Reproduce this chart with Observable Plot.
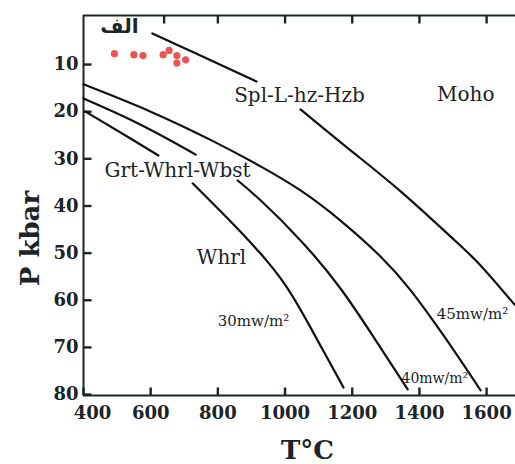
<!DOCTYPE html>
<html><head><meta charset="utf-8">
<script src="https://cdn.jsdelivr.net/npm/d3@7"></script>
<script src="https://cdn.jsdelivr.net/npm/@observablehq/plot@0.6"></script>
<style>body{margin:0;background:#fff} #chart{width:515px;height:464px}</style>
</head><body><div id="chart"></div>
<script>
// Axis ticks
const xTicks = [400, 600, 800, 1000, 1200, 1400, 1600];
const topTicks = [640, 800, 1000, 1200, 1400, 1600];
const yTicks = [10, 20, 30, 40, 50, 60, 70, 80];

// Curves: segments of [T (°C), P (kbar)] points (gaps where labels sit)
const curveTop = [
  [[605, 3.4], [748, 8.1], [915, 13.6]],
  [[1046, 19.5], [1195, 28.2], [1344, 36.9], [1493, 46.5], [1582, 52.6], [1683, 60.9]]
];
const curve45 = [
  [[400, 14.2], [600, 20.0], [787, 26.3], [927, 31.6], [1046, 36.7], [1165, 43.1], [1284, 50.7], [1374, 57.9], [1478, 68.1], [1582, 79.1]]
];
const curve40 = [
  [[400, 17.2], [540, 21.7], [659, 26.1], [734, 29.1]],
  [[859, 34.6], [927, 38.8], [1046, 47.3], [1165, 57.5], [1270, 68.5], [1365, 78.9]]
];
const curve30 = [
  [[406, 20.0], [540, 25.7], [623, 29.3]],
  [[725, 35.2], [838, 43.3], [927, 50.1], [1002, 56.9], [1076, 65.8], [1174, 78.5]]
];

// Sample points (red)
const sampleT = [492, 550, 577, 637, 655, 678, 678, 704];
const sampleP = [7.7, 7.9, 8.1, 7.9, 7.0, 8.1, 9.7, 9.0];

// Labels
const regionText = ["Spl-L-hz-Hzb", "Moho", "Grt-Whrl-Wbst", "Whrl"];
const regionT = [1043, 1538, 680, 811];
const regionP = [16.6, 16.3, 32.6, 50.9];
const flowText = ["30mw/m²", "40mw/m²", "45mw/m²"];
const flowT = [906, 1446, 1558];
const flowP = [64.4, 76.6, 63.0];
const panelText = ["الف"];
const panelT = [507];
const panelP = [2.0];

const curveRows = [];
[["top", curveTop], ["45", curve45], ["40", curve40], ["30", curve30]].forEach(([name, segs]) => {
  segs.forEach((seg, i) => seg.forEach(([T, P]) => curveRows.push({T, P, seg: name + "-" + i})));
});
const samples = sampleT.map((T, i) => ({T, P: sampleP[i]}));
const regions = regionText.map((text, i) => ({text, T: regionT[i], P: regionP[i]}));
const flowsBig = flowText.map((text, i) => ({text, T: flowT[i], P: flowP[i]})).filter((d, i) => i !== 1);
const flowsSmall = flowText.map((text, i) => ({text, T: flowT[i], P: flowP[i]})).filter((d, i) => i === 1);
const panels = panelText.map((text, i) => ({text, T: panelT[i], P: panelP[i]}));

const ink = "#1b2426";
const xDomain = [400, 1686];
const yDomain = [-0.4, 80.2];
// inward tick length, in data units (~8px)
const tickLenP = 1.7;
const tickLenT = 24;
const plain = d => String(d);

const bottomTickRows = xTicks.map(T => ({T1: T, T2: T, P1: yDomain[1], P2: yDomain[1] - tickLenP}));
const topTickRows = topTicks.map(T => ({T1: T, T2: T, P1: yDomain[0], P2: yDomain[0] + tickLenP}));
const leftTickRows = yTicks.map(P => ({T1: xDomain[0], T2: xDomain[0] + tickLenT, P1: P, P2: P}));
const tickRows = [...bottomTickRows, ...topTickRows, ...leftTickRows];

const plot = Plot.plot({
  width: 515, height: 464,
  marginLeft: 83, marginRight: 0, marginTop: 15, marginBottom: 69,
  style: {fontFamily: "DejaVu Serif", background: "#fff", color: ink},
  x: {domain: xDomain},
  y: {domain: yDomain, reverse: true},
  marks: [
    Plot.axisX({ticks: xTicks.slice(1), tickSize: 0, tickPadding: 11, fontSize: 18, fontWeight: "bold", tickFormat: plain, label: null}),
    Plot.axisX({ticks: xTicks.slice(0, 1), tickSize: 0, tickPadding: 11, dx: 9, fontSize: 18, fontWeight: "bold", tickFormat: plain, label: null}),
    Plot.axisY({ticks: yTicks, tickSize: 0, tickPadding: 5, fontSize: 18, fontWeight: "bold", tickFormat: plain, label: null}),
    Plot.ruleX([xDomain[0]], {stroke: ink, strokeWidth: 2}),
    Plot.ruleY(yDomain, {stroke: ink, strokeWidth: 2}),
    Plot.link(tickRows, {x1: "T1", x2: "T2", y1: "P1", y2: "P2", stroke: ink, strokeWidth: 2.4}),
    Plot.line(curveRows, {x: "T", y: "P", z: "seg", stroke: "#111", strokeWidth: 2.2, curve: "natural"}),
    Plot.dot(samples, {x: "T", y: "P", r: 3.6, fill: "#ef5350"}),
    Plot.text(regions, {x: "T", y: "P", text: "text", fontSize: 20, fill: ink}),
    Plot.text(flowsBig, {x: "T", y: "P", text: "text", fontSize: 15, fill: ink}),
    Plot.text(flowsSmall, {x: "T", y: "P", text: "text", fontSize: 14, fill: ink}),
    Plot.text(panels, {x: "T", y: "P", text: "text", fontSize: 20, fontWeight: "bold", fontFamily: "DejaVu Sans", fill: ink}),
    Plot.text(["T°C"], {frameAnchor: "bottom", lineAnchor: "middle", dx: 8, dy: 55, fontSize: 26, fontWeight: "bold", fill: ink}),
    Plot.text(["P kbar"], {frameAnchor: "left", textAnchor: "middle", dx: -53, dy: 33, rotate: -90, fontSize: 26, fontWeight: "bold", fill: ink})
  ]
});
document.getElementById("chart").appendChild(plot);
</script>
</body></html>
